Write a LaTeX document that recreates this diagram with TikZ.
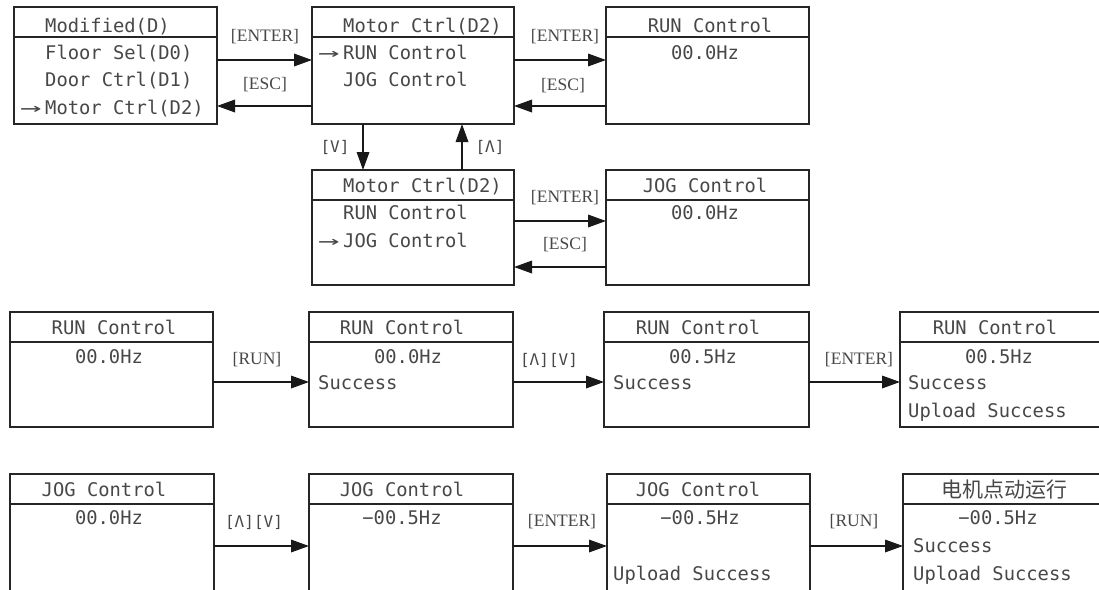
\documentclass[tikz,border=0pt]{standalone}
\usepackage{fontspec}
\usepackage{graphicx}
\setmainfont{Liberation Serif}
\newfontfamily\monof{DejaVu Sans Mono}
\newfontfamily\cjk{Noto Sans CJK SC}
\usetikzlibrary{arrows.meta,calc}
\newcommand{\selarrow}{\makebox[25pt][l]{\scalebox{1.9}[1]{→}}}
\tikzset{
  box/.style={draw=black!85, line width=1.8pt, rectangle, anchor=north west, inner sep=0pt, outer sep=0pt},
  hline/.style={draw=black!85, line width=1.8pt},
  mono/.style={font=\monof\fontsize{18.8}{20}\selectfont, text=black!72, inner sep=0pt},
  monosmall/.style={font=\monof\fontsize{16}{18}\selectfont, text=black!72, inner sep=0pt},
  cjktext/.style={font=\cjk\fontsize{21}{23}\selectfont, text=black!72, inner sep=0pt},
  keylbl/.style={font=\fontsize{17.5}{19}\selectfont, text=black!72, inner sep=0pt},
  arr/.style={draw=black!90, line width=1.8pt, -{Triangle[length=18pt,width=12.5pt]}},
}
\begin{document}
\begin{tikzpicture}[x=1pt,y=-1pt]
\useasboundingbox (0,0) rectangle (1099,589);
\clip (0,0) rectangle (1099,589);

% ---------- top block ----------
\node[box, minimum width=203pt, minimum height=117pt] (m1) at (14,7) {};
\node[box, minimum width=202pt, minimum height=117pt] (m2) at (312,7) {};
\node[box, minimum width=203pt, minimum height=117pt] (m3) at (606,7) {};
\node[box, minimum width=202pt, minimum height=115pt] (m4) at (312,170) {};
\node[box, minimum width=203pt, minimum height=115pt] (m5) at (606,170) {};
\foreach \b in {m1,m2,m3,m4,m5}
  \draw[hline] ($(\b.north west)+(0,30)$) -- ($(\b.north east)+(0,30)$);

\node[mono, anchor=base west] (m1h) at (45,32) {Modified(D)};
\node[mono, anchor=base west] (m1a) at (45,59) {Floor Sel(D0)};
\node[mono, anchor=base west] (m1b) at (45,86) {Door Ctrl(D1)};
\node[mono, anchor=base west] (m1c) at (20,114) {\selarrow Motor Ctrl(D2)};

\node[mono, anchor=base west] (m2h) at (343,32) {Motor Ctrl(D2)};
\node[mono, anchor=base west] (m2a) at (318,59) {\selarrow RUN Control};
\node[mono, anchor=base west] (m2b) at (343,86) {JOG Control};

\node[mono, anchor=base] (m3h) at (710,32) {RUN Control};
\node[mono, anchor=base] (m3a) at (705,59) {00.0Hz};

\node[mono, anchor=base west] (m4h) at (343,192) {Motor Ctrl(D2)};
\node[mono, anchor=base west] (m4a) at (343,219) {RUN Control};
\node[mono, anchor=base west] (m4b) at (318,247) {\selarrow JOG Control};

\node[mono, anchor=base] (m5h) at (705,192) {JOG Control};
\node[mono, anchor=base] (m5a) at (705,219) {00.0Hz};

\draw[arr] ($(m1.north east)+(0,53)$) -- ($(m2.north west)+(0,53)$);
\draw[arr] ($(m2.north west)+(0,99)$) -- ($(m1.north east)+(0,99)$);
\draw[arr] ($(m2.north east)+(0,53)$) -- ($(m3.north west)+(0,53)$);
\draw[arr] ($(m3.north west)+(0,99)$) -- ($(m2.north east)+(0,99)$);
\draw[arr] ($(m2.south west)+(51,0)$) -- ($(m4.north west)+(51,0)$);
\draw[arr] ($(m4.north west)+(150,0)$) -- ($(m2.south west)+(150,0)$);
\draw[arr] ($(m4.north east)+(0,51)$) -- ($(m5.north west)+(0,51)$);
\draw[arr] ($(m5.north west)+(0,97)$) -- ($(m4.north east)+(0,97)$);

\node[keylbl] (l1) at (265,37) {[ENTER]};
\node[keylbl] (l2) at (265,85) {[ESC]};
\node[keylbl] (l3) at (565,37) {[ENTER]};
\node[keylbl] (l4) at (563,86) {[ESC]};
\node[monosmall] (l5) at (335,147) {[V]};
\node[monosmall] (l6) at (490,147) {[Λ]};
\node[keylbl] (l7) at (565,198) {[ENTER]};
\node[keylbl] (l8) at (565,245) {[ESC]};

% ---------- RUN row ----------
\node[box, minimum width=203pt, minimum height=115pt] (r1) at (10,312) {};
\node[box, minimum width=204pt, minimum height=115pt] (r2) at (309,312) {};
\node[box, minimum width=205pt, minimum height=115pt] (r3) at (604,312) {};
\node[box, minimum width=204pt, minimum height=115pt] (r4) at (900,312) {};
\foreach \b in {r1,r2,r3,r4}
  \draw[hline] ($(\b.north west)+(0,30)$) -- ($(\b.north east)+(0,30)$);

\node[mono, anchor=base] (r1h) at (114,334) {RUN Control};
\node[mono, anchor=base] (r1a) at (109,363) {00.0Hz};

\node[mono, anchor=base] (r2h) at (402,334) {RUN Control};
\node[mono, anchor=base] (r2a) at (408,363) {00.0Hz};
\node[mono, anchor=base west] (r2b) at (318,389) {Success};

\node[mono, anchor=base] (r3h) at (698,334) {RUN Control};
\node[mono, anchor=base] (r3a) at (703,363) {00.5Hz};
\node[mono, anchor=base west] (r3b) at (613,389) {Success};

\node[mono, anchor=base] (r4h) at (995,334) {RUN Control};
\node[mono, anchor=base] (r4a) at (999,363) {00.5Hz};
\node[mono, anchor=base west] (r4b) at (908,389) {Success};
\node[mono, anchor=base west] (r4c) at (908,417) {Upload Success};

\draw[arr] ($(r1.north east)+(0,70)$) -- ($(r2.north west)+(0,70)$);
\draw[arr] ($(r2.north east)+(0,70)$) -- ($(r3.north west)+(0,70)$);
\draw[arr] ($(r3.north east)+(0,70)$) -- ($(r4.north west)+(0,70)$);

\node[keylbl] (l9) at (257,360) {[RUN]};
\node[monosmall] (l10) at (549,360) {[Λ][V]};
\node[keylbl] (l11) at (859,360) {[ENTER]};

% ---------- JOG row ----------
\node[box, minimum width=204pt, minimum height=117pt] (j1) at (10,474) {};
\node[box, minimum width=204pt, minimum height=117pt] (j2) at (309,474) {};
\node[box, minimum width=203pt, minimum height=117pt] (j3) at (607,474) {};
\node[box, minimum width=204pt, minimum height=117pt] (j4) at (903,474) {};
\foreach \b in {j1,j2,j3,j4}
  \draw[hline] ($(\b.north west)+(0,30)$) -- ($(\b.north east)+(0,30)$);

\node[mono, anchor=base] (j1h) at (104,496) {JOG Control};
\node[mono, anchor=base] (j1a) at (109,524) {00.0Hz};

\node[mono, anchor=base] (j2h) at (402,496) {JOG Control};
\node[mono, anchor=base] (j2a) at (402,524) {−00.5Hz};

\node[mono, anchor=base] (j3h) at (698,496) {JOG Control};
\node[mono, anchor=base] (j3a) at (700,524) {−00.5Hz};
\node[mono, anchor=base west] (j3b) at (613,580) {Upload Success};

\node[cjktext, anchor=base] (j4h) at (1004,497) {电机点动运行};
\node[mono, anchor=base] (j4a) at (998,524) {−00.5Hz};
\node[mono, anchor=base west] (j4b) at (913,552) {Success};
\node[mono, anchor=base west] (j4c) at (913,580) {Upload Success};

\draw[arr] ($(j1.north east)+(0,72)$) -- ($(j2.north west)+(0,72)$);
\draw[arr] ($(j2.north east)+(0,72)$) -- ($(j3.north west)+(0,72)$);
\draw[arr] ($(j3.north east)+(0,72)$) -- ($(j4.north west)+(0,72)$);

\node[monosmall] (l12) at (254,522) {[Λ][V]};
\node[keylbl] (l13) at (562,522) {[ENTER]};
\node[keylbl] (l14) at (854,522) {[RUN]};
\end{tikzpicture}
\end{document}
